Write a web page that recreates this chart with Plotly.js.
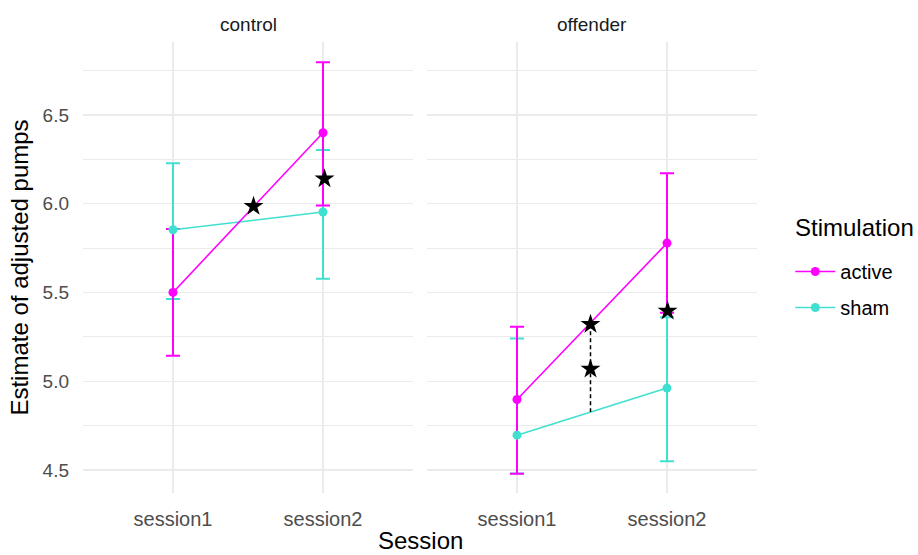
<!DOCTYPE html>
<html>
<head>
<meta charset="utf-8">
<script src="https://cdn.plot.ly/plotly-3.0.1.min.js"></script>
<style>html,body{margin:0;padding:0;background:#fff;}#chart{width:918px;height:555px;}</style>
</head>
<body>
<div id="chart"></div>
<script>
// ---- data ----
var sessions = ['session1', 'session2'];
var groups = ['control', 'offender'];
var stimulations = ['active', 'sham'];
var legendTitle = 'Stimulation';

// estimates per group [session1, session2]
var activeControl = [5.50, 6.40];
var activeControlUpper = [5.857, 6.797];
var activeControlLower = [5.143, 5.99];
var shamControl = [5.853, 5.953];
var shamControlUpper = [6.228, 6.303];
var shamControlLower = [5.463, 5.577];

var activeOffender = [4.897, 5.778];
var activeOffenderUpper = [5.306, 6.171];
var activeOffenderLower = [4.479, 5.385];
var shamOffender = [4.696, 4.961];
var shamOffenderUpper = [5.24, 5.36];
var shamOffenderLower = [4.48, 4.549];

// significance stars (x in session index units)
var starsControlX = [0.537, 1.01];
var starsControlY = [5.985, 6.14];
var starsOffenderX = [0.49, 0.49, 1.004];
var starsOffenderY = [5.321, 5.069, 5.396];
var dashOffenderX = [0.49, 0.49];
var dashOffenderY = [5.321, 4.827];

var colActive = '#FF00FF';
var colSham = '#40E0D0';
var xIdx = sessions.map(function (s, i) { return i; });

function errTrace(y, up, lo, color, xa) {
  return {
    x: xIdx, y: y, xaxis: xa, yaxis: 'y', type: 'scatter', mode: 'markers',
    marker: {size: 1, opacity: 0, color: color}, showlegend: false, hoverinfo: 'skip',
    error_y: {type: 'data', symmetric: false,
      array: up.map(function (v, i) { return v - y[i]; }),
      arrayminus: lo.map(function (v, i) { return y[i] - v; }),
      color: color, thickness: 2, width: 7}
  };
}
function lineTrace(y, color, name, xa, show, rank) {
  return {
    x: xIdx, y: y, xaxis: xa, yaxis: 'y', type: 'scatter', mode: 'lines+markers',
    name: name, legendgroup: name, showlegend: show, legendrank: rank,
    line: {color: color, width: 1.6}, marker: {color: color, size: 9}
  };
}

var traces = [
  errTrace(shamControl, shamControlUpper, shamControlLower, colSham, 'x'),
  errTrace(activeControl, activeControlUpper, activeControlLower, colActive, 'x'),
  errTrace(shamOffender, shamOffenderUpper, shamOffenderLower, colSham, 'x2'),
  errTrace(activeOffender, activeOffenderUpper, activeOffenderLower, colActive, 'x2'),
  lineTrace(shamControl, colSham, stimulations[1], 'x', false, 2),
  lineTrace(activeControl, colActive, stimulations[0], 'x', false, 1),
  lineTrace(shamOffender, colSham, stimulations[1], 'x2', true, 2),
  lineTrace(activeOffender, colActive, stimulations[0], 'x2', true, 1),
  {x: dashOffenderX, y: dashOffenderY, xaxis: 'x2', yaxis: 'y', type: 'scatter', mode: 'lines',
   line: {color: '#000', width: 1.5, dash: '4px,3px'}, showlegend: false, hoverinfo: 'skip'},
  {x: starsControlX, y: starsControlY, xaxis: 'x', yaxis: 'y', type: 'scatter', mode: 'markers',
   marker: {symbol: 'star', size: 15, color: '#000'}, showlegend: false},
  {x: starsOffenderX, y: starsOffenderY, xaxis: 'x2', yaxis: 'y', type: 'scatter', mode: 'markers',
   marker: {symbol: 'star', size: 15, color: '#000'}, showlegend: false}
];

var font = 'Liberation Sans, Arial, sans-serif';
var xBase = {
  range: [-0.6, 1.6], tickvals: xIdx, ticktext: sessions, showgrid: true,
  gridcolor: '#EBEBEB', gridwidth: 1.3, zeroline: false, showline: false, ticks: '',
  ticklabelstandoff: 12,
  tickfont: {family: font, size: 20, color: '#4D4D4D'}, fixedrange: true
};
var layout = {
  width: 918, height: 555,
  margin: {l: 82.7, r: 161.3, t: 42, b: 62},
  paper_bgcolor: '#fff', plot_bgcolor: '#fff',
  font: {family: font},
  xaxis: Object.assign({}, xBase, {domain: [0, 330 / 674], anchor: 'y'}),
  xaxis2: Object.assign({}, xBase, {domain: [344 / 674, 1], anchor: 'y'}),
  yaxis: {
    range: [4.37, 6.911], tickvals: [4.5, 5.0, 5.5, 6.0, 6.5], ticktext: ['4.5', '5.0', '5.5', '6.0', '6.5'],
    showgrid: true, gridcolor: '#EBEBEB', gridwidth: 1.3, zeroline: false, showline: false, ticks: '',
    minor: {tickvals: [4.75, 5.25, 5.75, 6.25, 6.75], showgrid: true, gridcolor: '#EBEBEB', gridwidth: 1.1},
    ticklabelstandoff: 13,
    tickfont: {family: font, size: 19, color: '#4D4D4D'},
    title: {text: 'Estimate of adjusted pumps', font: {family: font, size: 24, color: '#000'}, standoff: 7},
    fixedrange: true
  },
  showlegend: true,
  legend: {
    x: 1.0494, xanchor: 'left', y: 0.5344, yanchor: 'top',
    font: {family: font, size: 20, color: '#000'},
    traceorder: 'grouped', tracegroupgap: 7, itemwidth: 40, bgcolor: 'rgba(0,0,0,0)'
  },
  annotations: [
    {text: groups[0], xref: 'x domain', yref: 'paper', x: 0.5, y: 1, yanchor: 'bottom',
     showarrow: false, font: {family: font, size: 19, color: '#1A1A1A'}, yshift: 5},
    {text: groups[1], xref: 'x2 domain', yref: 'paper', x: 0.5, y: 1, yanchor: 'bottom',
     showarrow: false, font: {family: font, size: 19, color: '#1A1A1A'}, yshift: 5},
    {text: 'Session', xref: 'paper', yref: 'paper', x: 0.5, y: 0, yanchor: 'top',
     yshift: -32, showarrow: false, font: {family: font, size: 24, color: '#000'}},
    {text: legendTitle, xref: 'paper', yref: 'paper', x: 1.0539, xanchor: 'left', y: 0.5876, yanchor: 'middle',
     showarrow: false, font: {family: font, size: 24, color: '#000'}}
  ]
};

Plotly.newPlot('chart', traces, layout, {displayModeBar: false, staticPlot: true});
</script>
</body>
</html>
